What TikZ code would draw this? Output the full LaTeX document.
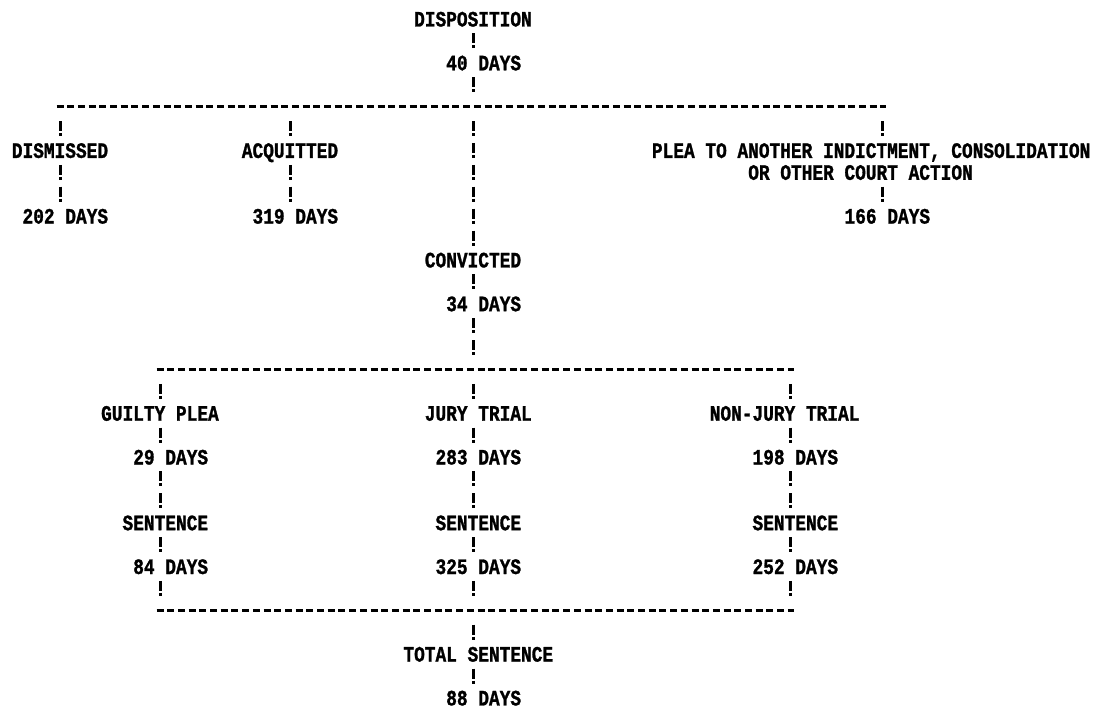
\documentclass[tikz,border=0pt]{standalone}
\usepackage{fontspec}
\newfontfamily\lpfont{Liberation Mono}[FakeStretch=0.81,FakeBold=1.2]
\newcommand{\lptext}[5]{\node[txt] (#1) at ({#2-#3*10.7},{19+21.9*#4+7.5}) {#5};}
\newcommand{\lpjunc}[3]{\node[junc] (#1) at (#2,{19+21.9*#3}) {};}
\tikzset{
  txt/.style={font=\lpfont\bfseries\fontsize{22}{22}\selectfont, inner sep=0pt, outer sep=0pt,
    text height=15pt, text depth=0pt, anchor=south west},
  junc/.style={inner sep=0pt, outer sep=0pt, minimum width=0pt, minimum height=15pt, draw=none},
  bang/.style={line width=3pt, dash pattern=on 10pt off 2pt on 3pt off 6.9pt, dash phase=18pt,
    shorten <=3pt, shorten >=3pt},
  dashline/.style={line width=2.8pt, dash pattern=on 7pt off 3.7pt},
}
\begin{document}
\begin{tikzpicture}[x=1pt,y=-1pt]
\fill[white] (0,0) rectangle (1095,709);
\useasboundingbox (0,0) rectangle (1095,709);

% top level
\lptext{disp}{473}{5.5}{0}{DISPOSITION}
\lptext{d40}{473}{2.5}{2}{40 DAYS}
\lpjunc{jd}{60}{4}
\lpjunc{ja}{290}{4}
\lpjunc{jc1}{473}{4}
\lpjunc{jp}{882}{4}
\lptext{dism}{60}{4.5}{6}{DISMISSED}
\lptext{acq}{290}{4.5}{6}{ACQUITTED}
\lptext{plea1}{882}{21.5}{6}{PLEA TO ANOTHER INDICTMENT, CONSOLIDATION}
\lptext{plea2}{882}{12.5}{7}{OR OTHER COURT ACTION}
\lptext{d202}{60}{3.5}{9}{202 DAYS}
\lptext{d319}{290}{3.5}{9}{319 DAYS}
\lptext{d166}{882}{3.5}{9}{166 DAYS}
\lptext{conv}{473}{4.5}{11}{CONVICTED}
\lptext{d34}{473}{2.5}{13}{34 DAYS}

% second level
\lpjunc{jg2}{160}{16}
\lpjunc{jc2}{473}{16}
\lpjunc{jn2}{790}{16}
\lptext{gp}{160}{5.5}{18}{GUILTY PLEA}
\lptext{jt}{473}{4.5}{18}{JURY TRIAL}
\lptext{nj}{790}{7.5}{18}{NON-JURY TRIAL}
\lptext{d29}{160}{2.5}{20}{29 DAYS}
\lptext{d283}{473}{3.5}{20}{283 DAYS}
\lptext{d198}{790}{3.5}{20}{198 DAYS}
\lptext{sg}{160}{3.5}{23}{SENTENCE}
\lptext{sj}{473}{3.5}{23}{SENTENCE}
\lptext{sn}{790}{3.5}{23}{SENTENCE}
\lptext{d84}{160}{2.5}{25}{84 DAYS}
\lptext{d325}{473}{3.5}{25}{325 DAYS}
\lptext{d252}{790}{3.5}{25}{252 DAYS}
\lpjunc{jg3}{160}{27}
\lpjunc{jc3}{473}{27}
\lpjunc{jn3}{790}{27}
\lptext{tot}{473}{6.5}{29}{TOTAL SENTENCE}
\lptext{d88}{473}{2.5}{31}{88 DAYS}

% horizontal dashed rules
\draw[dashline] ([xshift=-3.5pt]jd.center) -- ([xshift=3.5pt]jp.center);
\draw[dashline] ([xshift=-3.5pt]jg2.center) -- ([xshift=3.5pt]jn2.center);
\draw[dashline] ([xshift=-3.5pt]jg3.center) -- ([xshift=3.5pt]jn3.center);

% centre column
\draw[bang] (disp.south -| jc1) -- (d40.north -| jc1);
\draw[bang] (d40.south -| jc1) -- (jc1.north);
\draw[bang] (jc1.south) -- (conv.north -| jc1);
\draw[bang] (conv.south -| jc1) -- (d34.north -| jc1);
\draw[bang] (d34.south -| jc1) -- (jc2.north);
% dismissed
\draw[bang] (jd.south) -- (dism.north -| jd);
\draw[bang] (dism.south -| jd) -- (d202.north -| jd);
% acquitted
\draw[bang] (ja.south) -- (acq.north -| ja);
\draw[bang] (acq.south -| ja) -- (d319.north -| ja);
% plea
\draw[bang] (jp.south) -- (plea1.north -| jp);
\draw[bang] (plea2.south -| jp) -- (d166.north -| jp);
% guilty plea column
\draw[bang] (jg2.south) -- (gp.north -| jg2);
\draw[bang] (gp.south -| jg2) -- (d29.north -| jg2);
\draw[bang] (d29.south -| jg2) -- (sg.north -| jg2);
\draw[bang] (sg.south -| jg2) -- (d84.north -| jg2);
\draw[bang] (d84.south -| jg2) -- (jg3.north);
% jury trial column
\draw[bang] (jc2.south) -- (jt.north -| jc2);
\draw[bang] (jt.south -| jc2) -- (d283.north -| jc2);
\draw[bang] (d283.south -| jc2) -- (sj.north -| jc2);
\draw[bang] (sj.south -| jc2) -- (d325.north -| jc2);
\draw[bang] (d325.south -| jc2) -- (jc3.north);
% non-jury column
\draw[bang] (jn2.south) -- (nj.north -| jn2);
\draw[bang] (nj.south -| jn2) -- (d198.north -| jn2);
\draw[bang] (d198.south -| jn2) -- (sn.north -| jn2);
\draw[bang] (sn.south -| jn2) -- (d252.north -| jn2);
\draw[bang] (d252.south -| jn2) -- (jn3.north);
% total
\draw[bang] (jc3.south) -- (tot.north -| jc3);
\draw[bang] (tot.south -| jc3) -- (d88.north -| jc3);
\end{tikzpicture}
\end{document}
